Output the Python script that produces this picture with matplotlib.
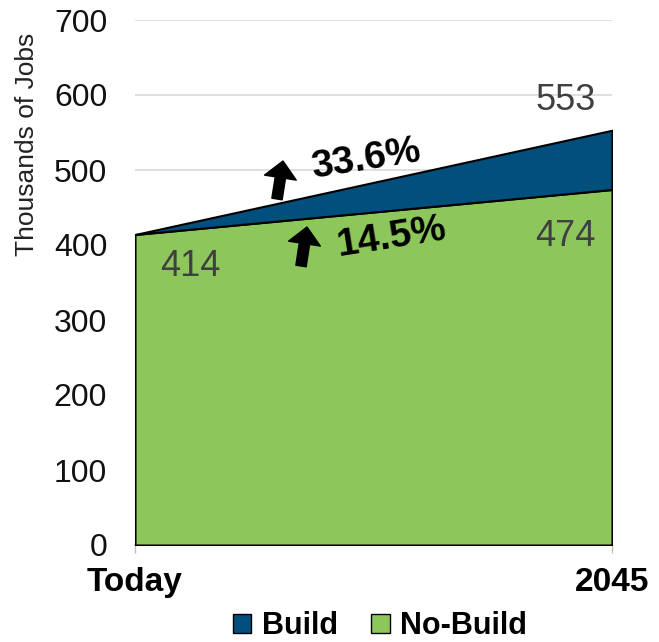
import matplotlib
matplotlib.use("Agg")
import matplotlib.pyplot as plt
import numpy as np

plt.rcParams['font.family'] = ['Liberation Sans', 'DejaVu Sans']

categories = ["Today", "2045"]
no_build = [414, 474]
build = [414, 553]
pct_build = "33.6%"
pct_nobuild = "14.5%"
yticks = [0, 100, 200, 300, 400, 500, 600, 700]

green = "#8DC75C"
blue = "#004F7C"

fig = plt.figure(figsize=(6.59, 6.42), dpi=100)
ax = fig.add_axes([135/659, 1-545/642, 477/659, 525/642])

x = np.arange(len(categories))
ax.fill_between(x, 0, no_build, facecolor=green, edgecolor="black", linewidth=1.5, zorder=3, label="No-Build")
ax.fill_between(x, no_build, build, facecolor=blue, edgecolor="black", linewidth=1.5, zorder=3, label="Build")

ax.set_xlim(0, 1)
ax.set_ylim(0, 700)
ax.set_yticks(yticks)
ax.set_yticklabels([str(v) for v in yticks], fontsize=23, color="#111111")
ax.set_xticks(x)
ax.set_xticklabels(categories, fontsize=24, fontweight="bold")
ax.tick_params(axis="y", length=0, pad=20)
ax.tick_params(axis="x", length=6, color="#BFBFBF", pad=10, width=1)
ax.grid(axis="y", color="#D9D9D9", linewidth=1.2, zorder=0)
for s in ["left", "right", "top"]:
    ax.spines[s].set_visible(False)
ax.spines["bottom"].set_color("#BFBFBF")
ax.spines["bottom"].set_linewidth(1.2)

fig.text(27/659, 1-144/642, "Thousands of Jobs", rotation=90, fontsize=19,
         color="#222222", ha="center", va="center")

# data labels
lab_col = "#404040"
ax.text(0.115, no_build[0] - 42, str(no_build[0]), fontsize=26, color=lab_col, ha="center", va="center", zorder=5)
ax.text(0.902, no_build[1] - 62, str(no_build[1]), fontsize=26, color=lab_col, ha="center", va="center", zorder=5)
ax.text(0.902, build[1] + 40, str(build[1]), fontsize=26, color=lab_col, ha="center", va="center", zorder=5)

def fx(px):
    return (px - 135) / 477
def fy(py):
    return (545 - py) / 525

ax.text(fx(366), fy(160), pct_build, fontsize=28, fontweight="bold", rotation=9,
        ha="center", va="center", transform=ax.transAxes, zorder=6)
ax.text(fx(392), fy(237), pct_nobuild, fontsize=28, fontweight="bold", rotation=9,
        ha="center", va="center", transform=ax.transAxes, zorder=6)

arrow_style = "simple,head_length=0.55,head_width=1.05,tail_width=0.34"
for (bx, by, tx, ty) in [(277, 199, 283, 161), (301, 266, 307, 227)]:
    ax.annotate("", xy=(fx(tx), fy(ty)), xytext=(fx(bx), fy(by)),
                xycoords="axes fraction", textcoords="axes fraction",
                arrowprops=dict(arrowstyle=arrow_style, mutation_scale=22,
                                facecolor="black", edgecolor="black", shrinkA=0, shrinkB=0),
                zorder=6)

handles, labels = ax.get_legend_handles_labels()
order = [1, 0]
leg = fig.legend([handles[i] for i in order], [labels[i] for i in order],
                 loc="center", bbox_to_anchor=(380/659, 1-626/642), ncol=2, frameon=False,
                 prop=dict(size=22, weight="bold"), handlelength=0.6, handleheight=0.6,
                 handletextpad=0.35, columnspacing=1.1, borderaxespad=0, borderpad=0)
for h in leg.legend_handles:
    h.set_linewidth(1.0)

fig.savefig("out.png", dpi=100)
